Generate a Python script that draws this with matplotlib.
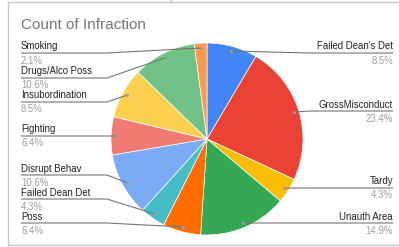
import numpy as np
import matplotlib
matplotlib.use("Agg")
import matplotlib.pyplot as plt

# data: infraction counts (clockwise from 12 o'clock)
labels = ["Failed Dean's Det", "GrossMisconduct", "Tardy", "Unauth Area", "Poss",
          "Failed Dean Det", "Disrupt Behav", "Fighting", "Insubordination",
          "Drugs/Alco Poss", "Smoking"]
counts = [4, 11, 2, 7, 3, 2, 5, 3, 4, 5, 1]
colors = ["#4285F4", "#EA4335", "#FBBC04", "#34A853", "#FF6D01", "#46BDC6",
          "#7BAAF7", "#F07B72", "#FCD04F", "#71C287", "#FF994D"]

# label layout (pixel rows of the leader line), side of chart
label_rows = [53, 111, 188, 223, 223, 199, 175, 136, 102, 78, 53]
label_side = ["R", "R", "R", "R", "L", "L", "L", "L", "L", "L", "L"]

W, H = 399, 247
plt.rcParams['font.family'] = ['Liberation Sans', 'DejaVu Sans']
fig = plt.figure(figsize=(W / 100, H / 100), dpi=100)
ax = fig.add_axes([0, 0, 1, 1])

cx, cy, r = 207, H - 139, 96
wedges, _ = ax.pie(counts, colors=colors, startangle=90, counterclock=False,
                   center=(cx, cy), radius=r,
                   wedgeprops=dict(linewidth=0.5, edgecolor="white"))
ax.set_xlim(0, W)
ax.set_ylim(0, H)
ax.set_aspect("auto")
ax.axis("off")

def py(y):
    return H - y

total = sum(counts)
for w, lab, c, row, side in zip(wedges, labels, counts, label_rows, label_side):
    ang = np.deg2rad((w.theta1 + w.theta2) / 2)
    dx = cx + 0.95 * r * np.cos(ang)
    dy = cy + 0.95 * r * np.sin(ang)
    pct = f"{100 * c / total:.1f}%"
    if side == "L":
        x0, xk = 21, 107
        if dx > xk:
            xs, ys = [x0, xk, dx], [py(row), py(row), dy]
        else:
            xs, ys = [x0, dx], [py(row), py(row)]
        ha, tx = "left", x0
    else:
        x0, xk = 393, 310
        if dx < xk:
            xs, ys = [x0, xk, dx], [py(row), py(row), dy]
        else:
            xs, ys = [x0, dx], [py(row), py(row)]
        ha, tx = "right", x0
    ax.plot(xs, ys, color="#757575", lw=0.8, solid_capstyle="butt")
    ax.plot([dx], [dy], "o", ms=2.2, color="#9e9e9e", mec="none")
    ax.text(tx, py(row - 1.5), lab, ha=ha, va="bottom", fontsize=6.9, color="#222222")
    ax.text(tx, py(row + 2.5), pct, ha=ha, va="top", fontsize=6.9, color="#9e9e9e")

ax.text(21, py(25), "Count of Infraction", ha="left", va="center",
        fontsize=11, color="#757575")

# frame lines of the screenshot
fc = "#c8c8c8"
ax.plot([8, W], [py(2.5), py(2.5)], color=fc, lw=1)
ax.plot([8, 8], [py(2.5), py(245)], color=fc, lw=1)
ax.plot([8, W], [py(245), py(245)], color=fc, lw=1)
ax.plot([171, 171], [py(0), py(2.5)], color=fc, lw=1)

fig.savefig("out.png", dpi=100)
